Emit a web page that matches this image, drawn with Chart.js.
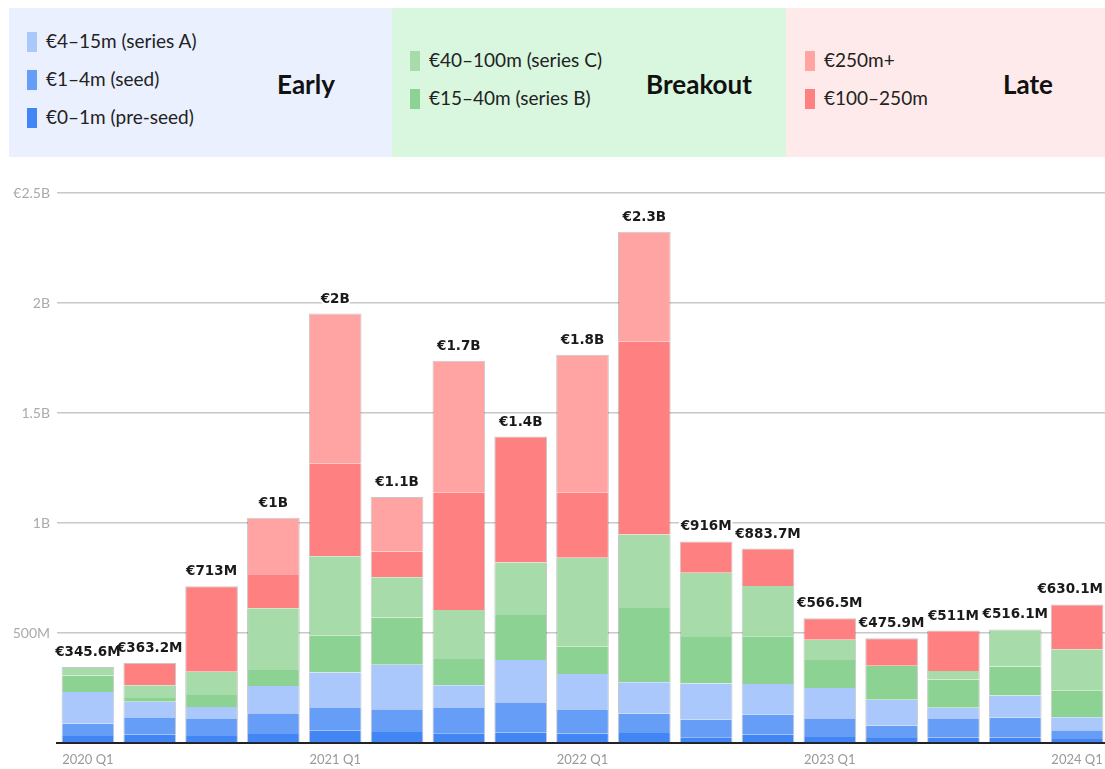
<!DOCTYPE html>
<html>
<head>
<meta charset="utf-8">
<script src="https://cdn.jsdelivr.net/npm/chart.js@4/dist/chart.umd.min.js"></script>
<style>
  html, body { margin: 0; padding: 0; background: #fff; overflow: hidden; width: 1105px; height: 769px; }
  .panel { position: absolute; top: 8px; height: 149px; }
  .item { position: absolute; font-family: Lato, "Open Sans", sans-serif; font-size: 19px; color: #222; line-height: 20px; white-space: nowrap; }
  .sw { position: absolute; width: 10px; height: 20px; }
  .title { position: absolute; font-family: Lato, sans-serif; font-weight: bold; font-size: 26px; color: #111; transform: translate(-50%, -50%); white-space: nowrap; }
  #wrap { position: absolute; left: 0; top: 160px; width: 1110px; height: 609px; }
</style>
</head>
<body>
<div class="panel" style="left:9px;width:383px;background:#ebf0fe;"></div>
<div class="panel" style="left:392px;width:394px;background:#d9f6df;"></div>
<div class="panel" style="left:786px;width:319px;background:#feeaea;"></div>
<div id="legend"></div>
<div id="wrap"><canvas id="c" width="1110" height="609"></canvas></div>
<script>
const categories = ["2020 Q1","2020 Q2","2020 Q3","2020 Q4","2021 Q1","2021 Q2","2021 Q3","2021 Q4","2022 Q1","2022 Q2","2022 Q3","2022 Q4","2023 Q1","2023 Q2","2023 Q3","2023 Q4","2024 Q1"];
// values in € millions, bottom to top of each stack
const preSeed  = [32, 38, 32, 41, 56, 50, 44, 47, 42, 45, 26, 38, 27, 23, 24, 24, 18];
const seed     = [55, 76, 77, 94, 103, 103, 115, 138, 108, 89, 80, 91, 82, 56, 85, 92, 40];
const seriesA  = [145, 73, 55, 124, 162, 203, 103, 192, 164, 142, 165, 139, 141, 118, 51, 100, 59];
const seriesB  = [75, 18, 54, 73, 166, 215, 120, 205, 124, 338, 211, 217, 127, 154, 129, 132, 121];
const seriesC  = [38.6, 57.2, 106, 280, 362, 182, 223, 238, 404, 334, 292, 229, 92.5, 0, 38, 168.1, 188];
const late100  = [0, 101, 389, 152, 420, 118, 533, 573, 296, 876, 142, 169.7, 97, 124.9, 184, 0, 204.1];
const late250  = [0, 0, 0, 260, 683, 247, 600, 0, 627, 500, 0, 0, 0, 0, 0, 0, 0];
const yTicks   = [0, 500, 1000, 1500, 2000, 2500];

const series = [
  {label: "€0–1m (pre-seed)",  data: preSeed, color: "#4285f4"},
  {label: "€1–4m (seed)",      data: seed,    color: "#669df6"},
  {label: "€4–15m (series A)", data: seriesA, color: "#aac8fb"},
  {label: "€15–40m (series B)",data: seriesB, color: "#8bd293"},
  {label: "€40–100m (series C)",data: seriesC, color: "#a7dcaa"},
  {label: "€100–250m",         data: late100, color: "#ff8080"},
  {label: "€250m+",            data: late250, color: "#ffa3a3"}
];

// HTML legend panels
const legendLayout = [
  {idx: 2, x: 27, y: 32}, {idx: 1, x: 27, y: 70}, {idx: 0, x: 27, y: 108},
  {idx: 4, x: 410, y: 51}, {idx: 3, x: 410, y: 89},
  {idx: 6, x: 805, y: 51}, {idx: 5, x: 805, y: 89}
];
const lg = document.getElementById('legend');
legendLayout.forEach(l => {
  const s = series[l.idx];
  const sw = document.createElement('div');
  sw.className = 'sw'; sw.style.left = l.x + 'px'; sw.style.top = l.y + 'px'; sw.style.background = s.color;
  lg.appendChild(sw);
  const t = document.createElement('div');
  t.className = 'item'; t.style.left = (l.x + 19) + 'px'; t.style.top = (l.y - 1) + 'px'; t.textContent = s.label;
  lg.appendChild(t);
});
[["Early", 306, 84], ["Breakout", 699, 84], ["Late", 1028, 84]].forEach(([txt, x, y]) => {
  const d = document.createElement('div');
  d.className = 'title'; d.style.left = x + 'px'; d.style.top = y + 'px'; d.textContent = txt;
  lg.appendChild(d);
});

function isTop(ctx) {
  const i = ctx.dataIndex, di = ctx.datasetIndex;
  if (!(series[di].data[i] > 0)) return false;
  for (let k = di + 1; k < series.length; k++) if (series[k].data[i] > 0) return false;
  return true;
}

function fmtTotal(v) {
  if (v >= 1000) return '€' + (Math.round(v / 100) / 10) + 'B';
  return '€' + (Math.round(v * 10) / 10) + 'M';
}

const VISIBLE_RIGHT = 1105;

const totalsPlugin = {
  id: 'totals',
  afterDatasetsDraw(chart) {
    const c = chart.ctx, ys = chart.scales.y;
    const meta = chart.getDatasetMeta(0);
    c.save();
    c.font = "bold 13.5px 'DejaVu Sans'";
    c.textAlign = 'center';
    c.textBaseline = 'alphabetic';
    c.lineJoin = 'round';
    const items = categories.map((cat, i) => {
      let total = 0;
      series.forEach(s => total += s.data[i]);
      const txt = fmtTotal(total);
      const w = c.measureText(txt).width;
      const x = Math.min(meta.data[i].x, VISIBLE_RIGHT - w / 2 - 2);
      return {x, y: ys.getPixelForValue(total) - 11, txt};
    });
    c.strokeStyle = '#fff';
    c.lineWidth = 4;
    items.forEach(it => c.strokeText(it.txt, it.x, it.y));
    c.fillStyle = '#1a1a1a';
    items.forEach(it => c.fillText(it.txt, it.x, it.y));
    c.restore();
  }
};

new Chart(document.getElementById('c'), {
  type: 'bar',
  data: {
    labels: categories,
    datasets: series.map(s => ({
      label: s.label,
      data: s.data,
      backgroundColor: s.color,
      borderColor: 'rgba(0,0,0,0.22)',
      borderSkipped: false,
      borderWidth: ctx => ({left: 1, right: 1, bottom: 0, top: isTop(ctx) ? 1 : 0}),
      barPercentage: 0.852,
      categoryPercentage: 1
    }))
  },
  options: {
    responsive: false,
    animation: false,
    devicePixelRatio: 1,
    layout: {padding: {top: 33, left: 0, right: 2, bottom: 0}},
    plugins: {legend: {display: false}, tooltip: {enabled: false}},
    scales: {
      x: {
        stacked: true,
        grid: {display: false, drawTicks: false},
        border: {display: true, color: '#222', width: 2},
        ticks: {
          autoSkip: false, maxRotation: 0, padding: 9,
          color: '#999', font: {family: 'Lato', size: 13},
          callback: function(v, i) { const l = categories[i]; return l.endsWith('Q1') ? l : ''; }
        },
        afterFit: s => { s.height = 26; s.paddingLeft = 0; s.paddingRight = 0; }
      },
      y: {
        stacked: true, min: yTicks[0], max: yTicks[yTicks.length - 1],
        afterBuildTicks: s => { s.ticks = yTicks.map(v => ({value: v})); },
        grid: {color: '#c8c8c8', lineWidth: 1.5, drawTicks: false},
        border: {display: false},
        ticks: {
          padding: 7, color: '#aaa', font: {family: 'Lato', size: 14},
          callback: v => v === 0 ? '' : (v === 2500 ? '€2.5B' : (v >= 1000 ? (v / 1000) + 'B' : v + 'M'))
        },
        afterFit: s => { s.width = 57; s.paddingTop = 0; s.paddingBottom = 0; }
      }
    }
  },
  plugins: [totalsPlugin]
});
</script>
</body>
</html>
